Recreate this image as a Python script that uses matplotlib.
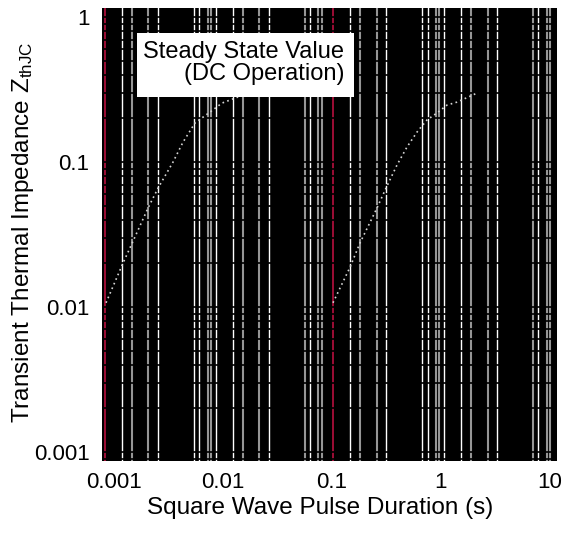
import matplotlib
matplotlib.use("Agg")
import matplotlib.pyplot as plt
from matplotlib.patches import Rectangle

plt.rcParams['font.family'] = ['Liberation Sans', 'DejaVu Sans']
plt.rcParams['mathtext.default'] = 'regular'

# pulse duration (s) vs transient thermal impedance, two traces
t_a = [0.000852, 0.00122, 0.00148, 0.00207, 0.00256, 0.00351, 0.00433,
       0.00558, 0.00766, 0.00987, 0.0130, 0.0175]
z_a = [0.0107, 0.0201, 0.0276, 0.0482, 0.0662, 0.100, 0.137,
       0.186, 0.221, 0.255, 0.276, 0.299]
t_b = [0.103, 0.148, 0.182, 0.261, 0.316, 0.398, 0.492,
       0.608, 0.750, 0.927, 1.145, 1.414, 2.16]
z_b = [0.0107, 0.0189, 0.0276, 0.0482, 0.0662, 0.0953, 0.127,
       0.161, 0.195, 0.218, 0.247, 0.259, 0.299]

# vertical marker lines (s)
red_t = [0.000834, 0.103]
white_t = [0.00119, 0.00256, 0.00547, 0.00607, 0.00870, 0.0125, 0.0267, 0.0634,
           0.148, 0.316, 0.675, 0.766, 1.075, 1.54, 3.29, 7.83]
gray_t = [0.00148, 0.00207, 0.00735, 0.00783, 0.0154, 0.0216, 0.0570, 0.0750,
          0.0816, 0.182, 0.261, 0.907, 0.967, 1.90, 2.72, 7.04, 9.47, 10.1]

x_ticks = [0.001, 0.01, 0.1, 1, 10]
x_labels = ['0.001', '0.01', '0.1', '1', '10']
y_ticks = [0.001, 0.01, 0.1, 1]
y_labels = ['0.001', '0.01', '0.1', '1']

fig = plt.figure(figsize=(5.69, 5.36), dpi=100)
ax = fig.add_axes([0.1793, 0.1399, 0.7996, 0.8451])
ax.set_facecolor('black')
ax.set_xscale('log')
ax.set_yscale('log')
ax.set_xlim(0.000783, 11.7)
ax.set_ylim(0.000867, 1.154)

for t in white_t:
    ax.axvline(t, color='white', lw=1.0, zorder=1)
for t in gray_t:
    ax.axvline(t, color='#969696', lw=1.5, zorder=1)
for t in red_t:
    ax.axvline(t, color='#b8103f', lw=1.2, zorder=1)

# black horizontal grid cuts the vertical lines
ax.set_axisbelow(False)
ax.grid(True, which='both', axis='y', color='black', lw=1.2)
ax.grid(False, axis='x', which='both')

ax.plot(t_a, z_a, color='#d4d4d4', lw=1.2, ls=(0, (1, 2)), zorder=3)
ax.plot(t_b, z_b, color='#d4d4d4', lw=1.2, ls=(0, (1, 2)), zorder=3)

ax.set_xticks(x_ticks)
ax.set_xticklabels(x_labels)
ax.set_yticks(y_ticks)
ax.set_yticklabels(y_labels)
ax.tick_params(which='both', length=0, labelsize=16)
ax.tick_params(axis='x', pad=8)
ax.tick_params(axis='y', pad=9)
for s in ax.spines.values():
    s.set_visible(False)

ax.add_patch(Rectangle((0.0769, 0.8035), 0.4769, 0.1413, transform=ax.transAxes,
                       facecolor='white', edgecolor='none', zorder=4))
ax.text(0.532, 0.8797, 'Steady State Value\n(DC Operation)', transform=ax.transAxes,
        ha='right', va='center', multialignment='right', linespacing=1.0,
        fontsize=17, color='black', zorder=5)

fig.text(0.563, 0.052, 'Square Wave Pulse Duration (s)', ha='center', va='center',
         fontsize=17.5)
fig.text(0.040, 0.567, 'Transient Thermal Impedance Z$_{thJC}$', ha='center',
         va='center', rotation=90, fontsize=17.5)

fig.savefig('out.png', dpi=100, facecolor='white')
